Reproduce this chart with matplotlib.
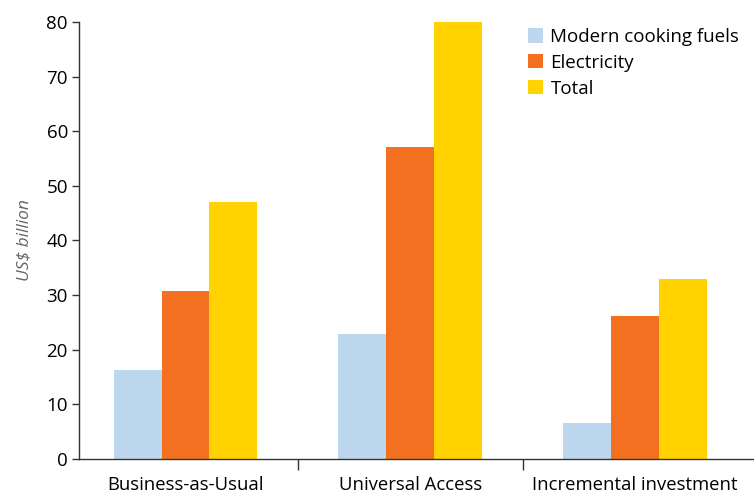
import matplotlib
matplotlib.use("Agg")
import matplotlib.pyplot as plt
import numpy as np

categories = ["Business-as-Usual", "Universal Access", "Incremental investment"]
series_names = ["Modern cooking fuels", "Electricity", "Total"]
cooking = [16.3, 22.9, 6.5]
electricity = [30.8, 57.1, 26.2]
total = [47.1, 80.0, 33.0]
colors = ["#BDD7EE", "#F37021", "#FFD200"]

plt.rcParams['font.family'] = ['Open Sans', 'DejaVu Sans']

fig = plt.figure(figsize=(7.54, 4.94), dpi=100)
ax = fig.add_axes([0.1048, 0.0709, 0.8952, 0.8846])

x = np.arange(len(categories))
w = 0.213
for i, (vals, name) in enumerate(zip([cooking, electricity, total], series_names)):
    ax.bar(x + (i - 1) * w, vals, width=w, color=colors[i], label=name, linewidth=0)

ax.set_xlim(-0.474, 2.53)
ax.set_ylim(0, 80)
ax.set_yticks(range(0, 81, 10))
ax.set_xticks(x)
ax.set_xticklabels(categories, fontsize=13.3)
ax.set_xticks([0.5, 1.5], minor=True)
ax.tick_params(axis='x', which='major', length=0, pad=12)
ax.tick_params(axis='x', which='minor', length=8, width=1, color="#333333")
ax.tick_params(axis='y', length=5, width=1, color="#333333", labelsize=13.5, pad=3)

for s in ["top", "right"]:
    ax.spines[s].set_visible(False)
for s in ["left", "bottom"]:
    ax.spines[s].set_color("#333333")
    ax.spines[s].set_linewidth(1)

ax.set_ylabel("US$ billion", fontstyle="italic", color="#666666", fontsize=12.5, labelpad=10)

ax.legend(loc="upper left", bbox_to_anchor=(0.64, 1.025), frameon=False, fontsize=13.5,
          handlelength=0.8, handleheight=0.8, handletextpad=0.4, labelspacing=0.42)

fig.savefig("out.png", dpi=100)
